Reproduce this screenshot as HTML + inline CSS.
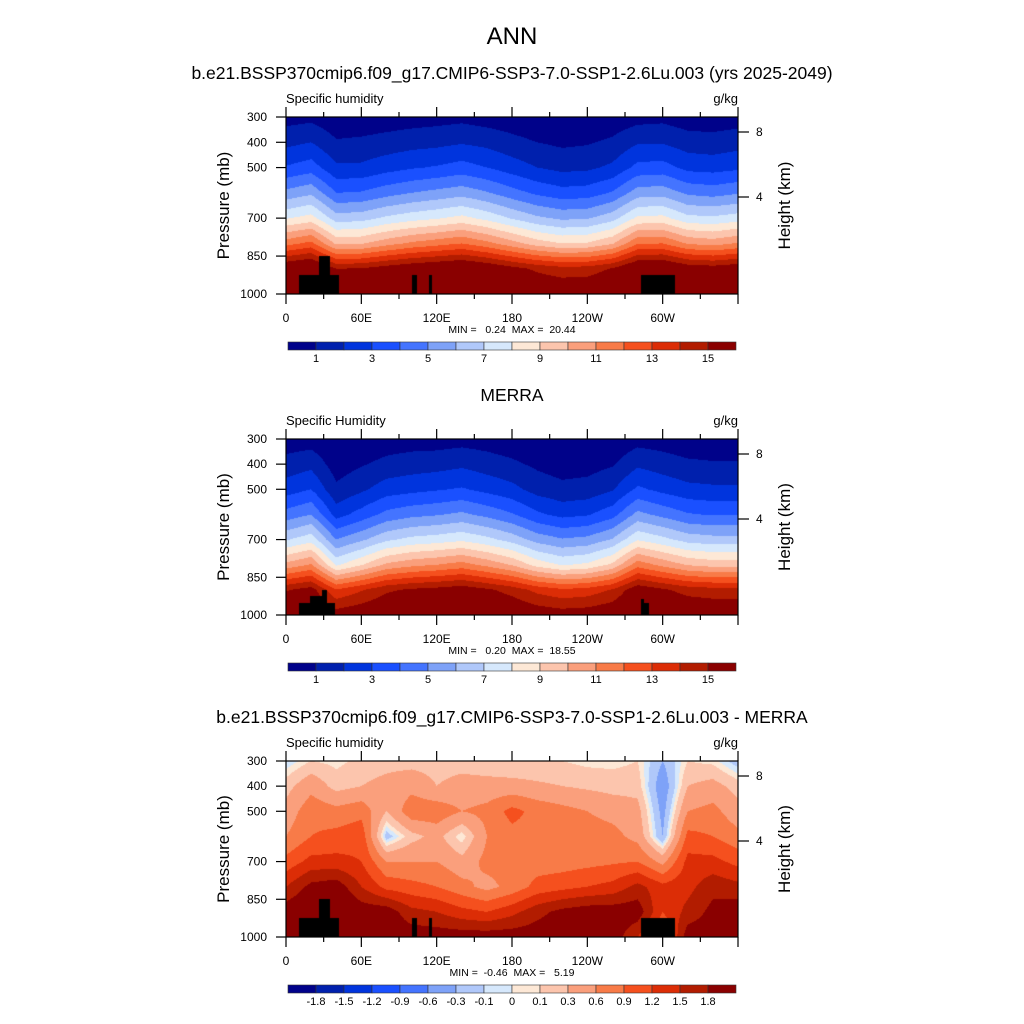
<!DOCTYPE html>
<html><head><meta charset="utf-8"><style>
body{margin:0;background:#fff;}
#root{position:relative;width:1024px;height:1024px;overflow:hidden;background:#fff;font-family:"Liberation Sans",sans-serif;}
canvas{position:absolute;}
svg{position:absolute;left:0;top:0;}
</style></head><body>
<div id="root">
<canvas id="c0" width="452" height="177" style="left:286px;top:117px"></canvas>
<canvas id="c1" width="452" height="176" style="left:286px;top:439px"></canvas>
<canvas id="c2" width="452" height="176" style="left:286px;top:761px"></canvas>
<svg id="ov" width="1024" height="1024"></svg>
</div>
<script>
const lons=[0,20,40,60,80,100,120,140,160,180,200,220,240,260,280,300,320,340,360];
const pres=[300,400,500,600,700,800,900,1000];
const gridModel=[
[0.6,1.7,3.1,5.3,7.9,11.6,16.3,16.8],
[0.7,2.0,3.5,5.8,8.4,12.3,16.8,17.0],
[0.3,1.1,2.2,4.0,6.5,9.8,15.0,16.3],
[0.3,1.2,2.2,4.1,6.6,9.9,15.1,16.3],
[0.4,1.4,2.6,4.6,7.2,10.6,15.6,16.5],
[0.5,1.6,2.9,5.0,7.6,11.2,16.0,16.6],
[0.6,1.7,3.1,5.3,7.9,11.6,16.3,16.8],
[0.7,1.9,3.4,5.6,8.3,12.0,16.6,16.9],
[0.5,1.7,3.0,5.1,7.7,11.3,16.1,16.6],
[0.4,1.3,2.5,4.4,6.9,10.4,15.4,16.4],
[0.2,1.0,2.0,3.8,6.2,9.5,14.8,16.2],
[0.1,0.8,1.7,3.4,5.8,9.0,14.4,16.1],
[0.1,0.9,1.8,3.5,5.9,9.1,14.5,16.1],
[0.3,1.2,2.2,4.1,6.6,9.9,15.1,16.3],
[0.6,1.9,3.3,5.5,8.2,11.9,16.5,16.9],
[0.7,1.9,3.4,5.6,8.3,12.0,16.6,16.9],
[0.4,1.5,2.7,4.8,7.3,10.9,15.8,16.5],
[0.4,1.4,2.6,4.6,7.2,10.6,15.6,16.5],
[0.5,1.6,2.8,4.9,7.5,11.1,15.9,16.6]];
const gridMerra=[
[0.4,1.4,2.5,4.4,6.9,10.3,14.9,16.3],
[0.5,1.7,3.0,5.0,7.6,11.1,15.5,16.5],
[0.1,0.5,1.2,2.6,5.0,7.8,13.1,15.6],
[0.1,0.9,1.8,3.4,5.8,8.9,13.9,15.9],
[0.4,1.3,2.5,4.3,6.8,10.2,14.8,16.3],
[0.5,1.5,2.7,4.7,7.3,10.7,15.2,16.4],
[0.5,1.6,2.9,4.9,7.5,11.0,15.4,16.5],
[0.6,1.8,3.1,5.2,7.8,11.4,15.7,16.6],
[0.5,1.5,2.7,4.7,7.3,10.7,15.2,16.4],
[0.3,1.2,2.3,4.1,6.6,9.9,14.6,16.2],
[0.1,0.8,1.6,3.2,5.6,8.6,13.7,15.8],
[0.1,0.5,1.3,2.7,5.1,7.9,13.2,15.6],
[0.1,0.6,1.4,2.9,5.3,8.2,13.4,15.7],
[0.2,0.9,1.9,3.6,6.1,9.2,14.1,16.0],
[0.6,1.8,3.2,5.3,7.9,11.6,15.8,16.7],
[0.5,1.5,2.7,4.7,7.3,10.7,15.2,16.4],
[0.3,1.2,2.3,4.1,6.6,9.9,14.6,16.2],
[0.3,1.1,2.2,3.9,6.4,9.6,14.4,16.1],
[0.3,1.1,2.2,3.9,6.4,9.6,14.4,16.1]];
const gridDiff=[
[-0.1,0.2,0.4,0.6,1.0,1.5,2.0,2.0],
[0.1,0.5,0.8,0.9,1.3,1.9,2.2,2.0],
[0.05,0.2,0.7,1.0,1.3,2.0,2.3,2.0],
[0.15,0.3,0.8,1.1,1.2,1.5,2.0,2.0],
[0.2,0.4,0.3,-0.2,0.6,1.1,2.0,2.0],
[0.2,0.5,0.8,0.2,0.6,1.0,1.6,2.0],
[0.2,0.3,0.8,0.4,0.6,0.9,1.5,2.0],
[0.2,0.4,0.6,0.0,0.4,0.7,1.3,2.0],
[0.15,0.4,0.7,0.6,0.7,0.5,1.2,2.0],
[0.1,0.4,1.0,0.8,0.75,0.7,1.4,2.0],
[0.1,0.35,0.8,0.8,0.75,1.0,1.7,2.0],
[0.1,0.3,0.7,0.8,0.75,1.1,1.9,2.0],
[0.05,0.25,0.6,0.75,0.8,1.2,2.0,2.0],
[0.05,0.2,0.5,0.7,0.85,1.3,2.0,2.0],
[0.1,0.2,0.4,0.5,0.9,1.6,2.0,1.5],
[-0.3,-0.5,-0.4,-0.3,0.5,1.3,1.2,0.8],
[0.1,0.3,0.6,1.0,1.3,1.4,1.6,2.0],
[0.05,0.4,0.7,0.9,1.3,1.7,1.9,2.0],
[-0.2,0.2,0.4,0.7,1.1,1.6,2.0,2.0]];
// topography masks: [lonStart, lonEnd, pressureTop]
const maskModel=[[10,42,925],[26,35,850],[100,104,925],[114,116,925],[283,310,925]];
const maskMerra=[[10,39,952],[19,31,925],[29,33,900],[283,289,952],[283,285,935]];
const levelsQ=[1,2,3,4,5,6,7,8,9,10,11,12,13,14,15];
const levelsD=[-1.8,-1.5,-1.2,-0.9,-0.6,-0.3,-0.1,0,0.1,0.3,0.6,0.9,1.2,1.5,1.8];
const labelsQ=["1","3","5","7","9","11","13","15"];
const labelsD=["-1.8","-1.5","-1.2","-0.9","-0.6","-0.3","-0.1","0","0.1","0.3","0.6","0.9","1.2","1.5","1.8"];
const lonTicks=["0","60E","120E","180","120W","60W"];
const presTicks=[300,400,500,700,850,1000];
const heightTicks=[8,4];
const colors=["#00028a","#0020ad","#0034dd","#1a50ff","#4474ff","#7ea2f8","#b0c8fa","#d6e8fc","#fde8d6","#fcc5ad","#fa9f7c","#f87b48","#f5501e","#dc2d06","#b21c00","#8a0000"];

const PX=286,PW=452;
const panels=[
 {cv:'c0',top:117,h:177,grid:gridModel,levels:levelsQ,mask:maskModel,title:"b.e21.BSSP370cmip6.f09_g17.CMIP6-SSP3-7.0-SSP1-2.6Lu.003 (yrs 2025-2049)",tl:"Specific humidity",mm:"MIN =   0.24  MAX =  20.44",cb:342,cl:labelsQ,cbName:'colorbar-model'},
 {cv:'c1',top:439,h:176,grid:gridMerra,levels:levelsQ,mask:maskMerra,title:"MERRA",tl:"Specific Humidity",mm:"MIN =   0.20  MAX =  18.55",cb:663,cl:labelsQ,cbName:'colorbar-merra'},
 {cv:'c2',top:761,h:176,grid:gridDiff,levels:levelsD,mask:maskModel,title:"b.e21.BSSP370cmip6.f09_g17.CMIP6-SSP3-7.0-SSP1-2.6Lu.003 - MERRA",tl:"Specific humidity",mm:"MIN =  -0.46  MAX =   5.19",cb:985,cl:labelsD,cbName:'colorbar-difference'}];

function hex(c){return [parseInt(c.substr(1,2),16),parseInt(c.substr(3,2),16),parseInt(c.substr(5,2),16)];}
const rgb=colors.map(hex);
function sample(grid,lon,p){
 let i=Math.min(lons.length-2,Math.max(0,Math.floor(lon/20)));let fx=(lon-lons[i])/20;
 let j=Math.min(pres.length-2,Math.max(0,Math.floor((p-300)/100)));let fy=(p-pres[j])/100;
 const a=grid[i][j],b=grid[i+1][j],c=grid[i][j+1],d=grid[i+1][j+1];
 return a*(1-fx)*(1-fy)+b*fx*(1-fy)+c*(1-fx)*fy+d*fx*fy;}
panels.forEach(P=>{
 const cv=document.getElementById(P.cv),ctx=cv.getContext('2d');
 const W=cv.width,H=cv.height,img=ctx.createImageData(W,H);
 for(let y=0;y<H;y++){const p=300+(y+0.5)/H*700;
  for(let x=0;x<W;x++){const lon=(x+0.5)/W*360;const v=sample(P.grid,lon,p);
   let k=0;while(k<P.levels.length&&v>=P.levels[k])k++;
   let col=rgb[k];
   for(const m of P.mask){if(lon>=m[0]&&lon<=m[1]&&p>=m[2]){col=[0,0,0];break;}}
   const o=(y*W+x)*4;img.data[o]=col[0];img.data[o+1]=col[1];img.data[o+2]=col[2];img.data[o+3]=255;}}
 ctx.putImageData(img,0,0);
});
const svg=document.getElementById('ov');const NS='http://www.w3.org/2000/svg';
function el(t,a,txt){const e=document.createElementNS(NS,t);for(const k in a)e.setAttribute(k,a[k]);if(txt!==undefined)e.textContent=txt;svg.appendChild(e);return e;}
let t=el('text',{x:512,y:44,'font-size':24,'text-anchor':'middle'},'ANN');


panels.forEach((P,pi)=>{
 const top=P.top,h=P.h,bot=top+h;
 const yP=p=>top+(p-300)/700*h; const xL=l=>PX+l/360*PW;
 let e=el('text',{x:512,y:top-38,'font-size':17.5,'text-anchor':'middle'},P.title);
 
 
 e=el('text',{x:PX,y:top-14,'font-size':13},P.tl);
 
 
 e=el('text',{x:738,y:top-14,'font-size':13,'text-anchor':'end'},'g/kg');
 
 
 e=el('rect',{x:PX,y:top,width:PW,height:h,fill:'none',stroke:'#000','stroke-width':1.2});
 
 
 for(let l=0;l<=360;l+=30){const x=xL(l),L=(l%60==0)?10:5;
  el('line',{x1:x,y1:top,x2:x,y2:top-L,stroke:'#000','stroke-width':1.2});
  el('line',{x1:x,y1:bot,x2:x,y2:bot+L,stroke:'#000','stroke-width':1.2});}
 lonTicks.forEach((s,i)=>{e=el('text',{x:xL(i*60),y:bot+28,'font-size':12,'text-anchor':'middle'},s);
  
  });
 presTicks.forEach(p=>{const y=yP(p);el('line',{x1:PX,y1:y,x2:PX-10,y2:y,stroke:'#000','stroke-width':1.2});
  e=el('text',{x:267,y:y+4,'font-size':12,'text-anchor':'end'},String(p));
  
  });
 const hy=[top+15,top+80];
 heightTicks.forEach((hv,i)=>{el('line',{x1:738,y1:hy[i],x2:749,y2:hy[i],stroke:'#000','stroke-width':1.2});
  e=el('text',{x:756,y:hy[i]+4,'font-size':12},String(hv));
  
  });
 const cy=top+h/2;
 e=el('text',{x:229,y:cy,'font-size':17,'text-anchor':'middle',transform:`rotate(-90 229 ${cy})`},'Pressure (mb)');
 
 
 e=el('text',{x:790,y:cy,'font-size':17,'text-anchor':'middle',transform:`rotate(-90 790 ${cy})`},'Height (km)');
 
 
 e=el('text',{x:512,y:bot+39,'font-size':10.5,'text-anchor':'middle',style:'white-space:pre'},P.mm);
 
 
 const g=document.createElementNS(NS,'g');svg.appendChild(g);
 
 
 const bw=448/16;
 colors.forEach((c,i)=>{const r=document.createElementNS(NS,'rect');
  r.setAttribute('x',288+i*bw);r.setAttribute('y',P.cb);r.setAttribute('width',bw);r.setAttribute('height',8);
  r.setAttribute('fill',c);r.setAttribute('stroke','#333');r.setAttribute('stroke-width',0.6);
  
  
  g.appendChild(r);});
 P.cl.forEach((s,i)=>{const k=(P.cl.length==8)?(2*i+1):(i+1);
  e=el('text',{x:288+k*bw,y:P.cb+20,'font-size':11,'text-anchor':'middle'},s);
  
  });
});
</script>
</body></html>
